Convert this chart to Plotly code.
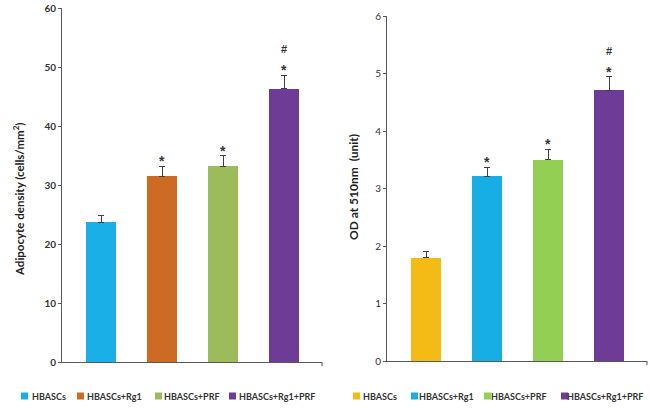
import plotly.graph_objects as go

# Data
groups_left = ["HBASCs", "HBASCs+Rg1", "HBASCs+PRF", "HBASCs+Rg1+PRF"]
density = [23.7, 31.5, 33.2, 46.3]
density_err = [1.2, 1.7, 1.8, 2.3]
colors_left = ["#1AAFE6", "#CD6A23", "#9CBB5A", "#6E3B97"]

groups_right = ["HBASCs", "HBASCs+Rg1", "HBASCs+PRF", "HBASCs+Rg1+PRF"]
od510 = [1.80, 3.21, 3.50, 4.71]
od510_err = [0.10, 0.16, 0.18, 0.23]
colors_right = ["#F4BB16", "#17AEE6", "#93CF52", "#6E3B97"]

star_marks = ["", "*", "*", "*"]
hash_marks = ["", "", "", "#"]

W, H = 650, 408
FONT = "Lato, 'Open Sans', sans-serif"
TXT = "#333333"
AXC = "#595959"


def px(x):
    return x / W


def py(y):
    return (H - y) / H


fig = go.Figure()

for i, g in enumerate(groups_left):
    fig.add_trace(go.Bar(
        x=[i], y=[density[i]], name=g, marker_color=colors_left[i],
        marker_line_width=0, width=0.49, showlegend=False,
        error_y=dict(type="data", symmetric=False, array=[density_err[i]],
                     arrayminus=[0], color="#404040", thickness=1, width=3),
        xaxis="x", yaxis="y"))

for i, g in enumerate(groups_right):
    fig.add_trace(go.Bar(
        x=[i], y=[od510[i]], name=g, marker_color=colors_right[i],
        marker_line_width=0, width=0.49, showlegend=False,
        error_y=dict(type="data", symmetric=False, array=[od510_err[i]],
                     arrayminus=[0], color="#404040", thickness=1, width=3),
        xaxis="x2", yaxis="y2"))

annotations = []
shapes = []
# significance marks
for xr, yr, vals, errs in [("x", "y", density, density_err),
                           ("x2", "y2", od510, od510_err)]:
    for i in range(len(vals)):
        top = vals[i] + errs[i]
        if star_marks[i]:
            annotations.append(dict(x=i, y=top, xref=xr, yref=yr, text=star_marks[i],
                                    showarrow=False, yanchor="middle", yshift=5,
                                    font=dict(family="Liberation Sans", size=14,
                                              color=TXT, weight="bold")))
        if hash_marks[i]:
            annotations.append(dict(x=i, y=top, xref=xr, yref=yr, text=hash_marks[i],
                                    showarrow=False, yanchor="middle", yshift=26,
                                    font=dict(family="Liberation Sans", size=11,
                                              color=TXT, weight="bold")))

# axis titles
annotations.append(dict(x=px(18), y=py(199), xref="paper", yref="paper",
                        xanchor="center", yanchor="middle",
                        text="<b>Adipocyte density (cells/mm<sup>2</sup>)</b>",
                        textangle=-90, showarrow=False,
                        font=dict(family=FONT, size=11.5, color="#222222")))
annotations.append(dict(x=px(353), y=py(187), xref="paper", yref="paper",
                        xanchor="center", yanchor="middle",
                        text="<b>OD at 510nm  (unit)</b>",
                        textangle=-90, showarrow=False,
                        font=dict(family=FONT, size=12, color="#222222")))

# legends drawn as key squares plus text under each panel
leg_sq_left = [21, 77, 155, 229]
leg_tx_left = [31, 86, 163, 238]
leg_sq_right = [353, 411, 484, 561]
leg_tx_right = [362, 418, 490, 566]
for sqs, txs, names, cols in [(leg_sq_left, leg_tx_left, groups_left, colors_left),
                              (leg_sq_right, leg_tx_right, groups_right, colors_right)]:
    for s, t, n, c in zip(sqs, txs, names, cols):
        shapes.append(dict(type="rect", xref="paper", yref="paper",
                           x0=px(s), x1=px(s + 7), y0=py(399.5), y1=py(392.5),
                           fillcolor=c, line_width=0))
        annotations.append(dict(
            x=px(t - 1), y=py(396), xref="paper", yref="paper",
            xanchor="left", yanchor="middle", showarrow=False,
            text=f"<b>{n}</b>",
            font=dict(family=FONT, size=9, color=TXT)))

# small end ticks on the category axes
for xr, yr in [("x", "y"), ("x2", "y2")]:
    shapes.append(dict(type="line", xref=f"{xr} domain", yref=f"{yr} domain",
                       x0=1, x1=1, y0=0, y1=-0.012, line=dict(color=AXC, width=1)))

fig.update_layout(
    width=W, height=H,
    margin=dict(l=0, r=0, t=0, b=0),
    paper_bgcolor="white", plot_bgcolor="white",
    font=dict(family=FONT, color=TXT),
    bargap=0,
    xaxis=dict(domain=[px(62), px(322)], range=[-0.64, 3.62], showticklabels=False,
               showgrid=False, zeroline=False, showline=True, linecolor=AXC,
               linewidth=1, ticks="", anchor="y", automargin=False),
    yaxis=dict(domain=[py(362), py(8)], range=[0, 60], dtick=10,
               showgrid=False, zeroline=False, showline=True, linecolor=AXC,
               linewidth=1, ticks="outside", ticklen=3, tickcolor=AXC,
               tickfont=dict(family=FONT, size=10, color=TXT, weight="bold"),
               anchor="x", automargin=False),
    xaxis2=dict(domain=[px(387), px(647)], range=[-0.64, 3.62], showticklabels=False,
                showgrid=False, zeroline=False, showline=True, linecolor=AXC,
                linewidth=1, ticks="", anchor="y2", automargin=False),
    yaxis2=dict(domain=[py(361), py(16)], range=[0, 6], dtick=1,
                showgrid=False, zeroline=False, showline=True, linecolor=AXC,
                linewidth=1, ticks="outside", ticklen=3, tickcolor=AXC,
                tickfont=dict(family=FONT, size=10, color=TXT),
                anchor="x2", automargin=False),
    annotations=annotations,
    shapes=shapes,
)

# drop the default page margin so the 650x408 figure fills the window exactly
fig.write_html("out.html", config={"displayModeBar": False},
               post_script="document.body.style.margin='0';"
                           "document.body.style.overflow='hidden';")
